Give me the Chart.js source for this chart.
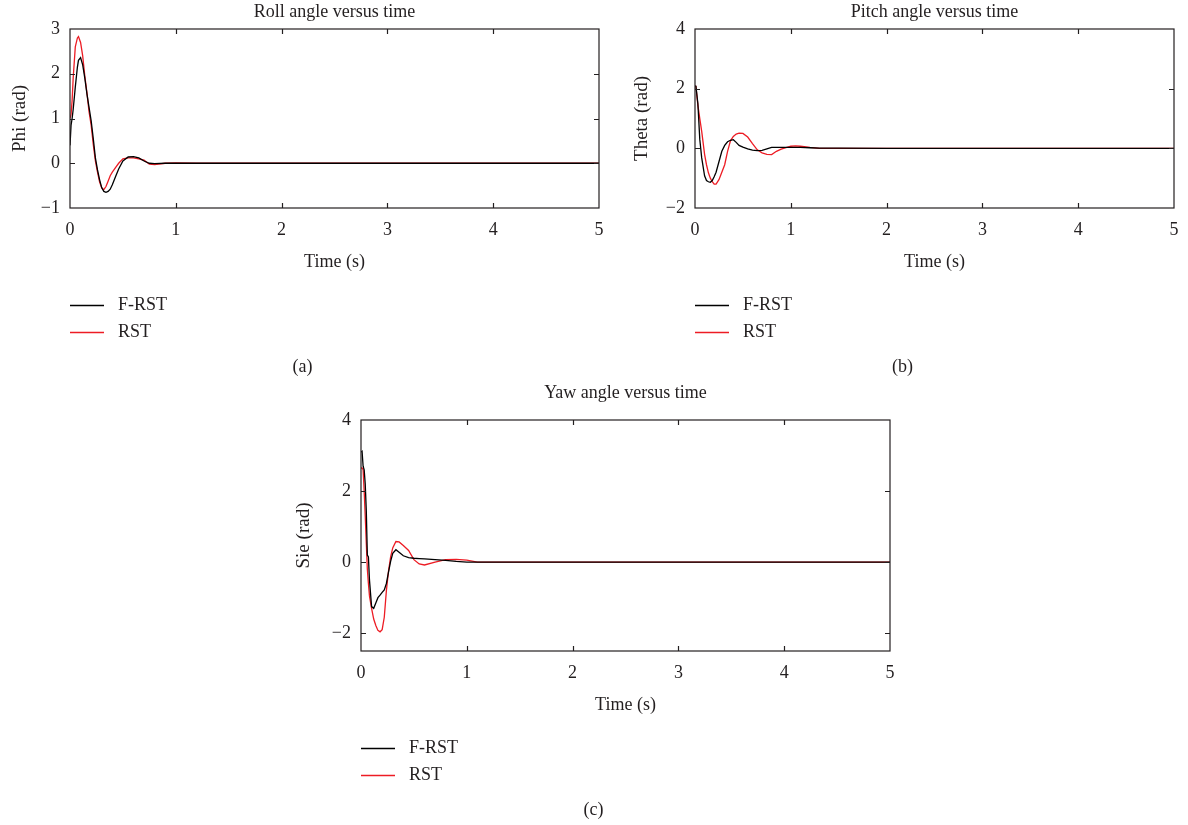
<!DOCTYPE html>
<html>
<head>
<meta charset="utf-8">
<title>Roll, pitch and yaw angles versus time</title>
<script src="https://cdn.jsdelivr.net/npm/chart.js@4.4.0/dist/chart.umd.min.js"></script>
<style>
  body { margin: 0; background: #fff; }
  #wrap { position: relative; width: 1188px; height: 825px; }
  canvas { position: absolute; }
</style>
</head>
<body>
<div id="wrap">
  <canvas id="roll-chart" style="left:0px;top:0px" width="620" height="390"></canvas>
  <canvas id="pitch-chart" style="left:600px;top:0px" width="588" height="390"></canvas>
  <canvas id="yaw-chart" style="left:250px;top:380px" width="700" height="445"></canvas>
</div>
<script>
// time ticks shared by all three plots
var timeTicks = [0, 1, 2, 3, 4, 5];

// (a) roll angle
var rollTime = [0, 0.01, 0.02, 0.03, 0.05, 0.07, 0.08, 0.1, 0.12, 0.14, 0.16, 0.18, 0.2, 0.22, 0.24, 0.26, 0.28, 0.3, 0.32, 0.34,
    0.36, 0.38, 0.4, 0.43, 0.46, 0.5, 0.55, 0.6, 0.65, 0.7, 0.75, 0.8, 0.9, 1.0, 1.2, 1.5, 2, 3, 4, 5];
var rollFRST = [0.4, 0.85, 1.0, 1.2, 1.7, 2.15, 2.3, 2.36, 2.2, 1.9, 1.55, 1.25, 0.95, 0.55, 0.12, -0.15, -0.37, -0.55, -0.63, -0.65,
    -0.63, -0.58, -0.48, -0.3, -0.13, 0.05, 0.14, 0.15, 0.12, 0.05, 0.0, -0.01, 0, 0, 0, 0, 0, 0, 0, 0];
var rollRST = [1.0, 1.1, 1.4, 1.9, 2.6, 2.8, 2.83, 2.7, 2.4, 1.95, 1.58, 1.15, 0.85, 0.42, 0.05, -0.2, -0.42, -0.55, -0.59, -0.52,
    -0.4, -0.28, -0.2, -0.1, 0.0, 0.1, 0.12, 0.12, 0.1, 0.07, -0.02, -0.03, 0.0, 0.01, 0, 0, 0, 0, 0, 0];
var rollYTicks = [-1, 0, 1, 2, 3];

// (b) pitch angle
var pitchTime = [0, 0.01, 0.03, 0.05, 0.07, 0.1, 0.12, 0.14, 0.16, 0.18, 0.2, 0.22, 0.25, 0.28, 0.31, 0.34, 0.37, 0.4, 0.43, 0.46,
    0.5, 0.55, 0.6, 0.65, 0.7, 0.75, 0.8, 0.85, 0.9, 0.95, 1.0, 1.05, 1.1, 1.2, 1.3, 1.5, 2, 3, 4, 5];
var pitchFRST = [2.1, 2.07, 1.5, 0.3, -0.32, -0.92, -1.08, -1.12, -1.14, -1.08, -0.95, -0.8, -0.45, -0.1, 0.1, 0.22, 0.27, 0.29, 0.2, 0.1,
    0.04, -0.02, -0.06, -0.08, -0.07, -0.02, 0.03, 0.03, 0.03, 0.03, 0.03, 0.03, 0.03, 0.02, 0.01, 0.01, 0, 0, 0, 0];
var pitchRST = [2.1, 2.05, 1.45, 1.0, 0.57, -0.2, -0.55, -0.82, -1.0, -1.12, -1.2, -1.2, -1.05, -0.8, -0.55, -0.1, 0.25, 0.4, 0.48, 0.51,
    0.5, 0.38, 0.16, -0.05, -0.15, -0.2, -0.21, -0.1, -0.03, 0.02, 0.07, 0.08, 0.07, 0.03, 0.0, 0, 0, 0, 0, 0];
var pitchYTicks = [-2, 0, 2, 4];

// (c) yaw angle
var yawTime = [0, 0.01, 0.02, 0.03, 0.04, 0.05, 0.06, 0.07, 0.08, 0.1, 0.12, 0.14, 0.16, 0.18, 0.2, 0.22, 0.24, 0.26, 0.28, 0.3,
    0.33, 0.36, 0.4, 0.45, 0.5, 0.55, 0.6, 0.7, 0.8, 0.9, 1.0, 1.1, 1.3, 1.5, 2, 3, 4, 5];
var yawFRST = [3.1, 3.12, 2.7, 2.6, 2.2, 1.45, 0.2, 0.15, -0.5, -1.25, -1.3, -1.15, -1.0, -0.93, -0.85, -0.78, -0.6, -0.28, 0.02, 0.25,
    0.35, 0.28, 0.18, 0.13, 0.11, 0.1, 0.09, 0.07, 0.05, 0.02, 0.0, 0, 0, 0, 0, 0, 0, 0];
var yawRST = [2.65, 2.65, 2.6, 2.0, 1.3, 0.54, -0.2, -0.6, -0.95, -1.3, -1.6, -1.78, -1.92, -1.96, -1.9, -1.55, -0.8, -0.25, 0.15, 0.4,
    0.58, 0.57, 0.47, 0.33, 0.07, -0.05, -0.08, 0.0, 0.07, 0.08, 0.06, 0.0, 0, 0, 0, 0, 0, 0];
var yawYTicks = [-2, 0, 2, 4];

var ink = '#231f20';
var fontFamily = "'Liberation Serif', 'Times New Roman', serif";
var fontSize = 18;

function pairs(t, v) {
    return t.map(function (x, i) { return { x: x, y: v[i] }; });
}

function minusLabel(value) {
    return value < 0 ? '\u2212' + Math.abs(value) : String(value);
}

// box, inward ticks, title, legend and panel caption
var framePlugin = {
    id: 'frame',
    afterDraw: function (chart, args, opts) {
        var ctx = chart.ctx, a = chart.chartArea;
        var x = chart.scales.x, y = chart.scales.y;
        ctx.save();
        ctx.strokeStyle = ink;
        ctx.lineWidth = 1.2;
        ctx.strokeRect(a.left, a.top, a.right - a.left, a.bottom - a.top);
        ctx.beginPath();
        x.ticks.forEach(function (t) {
            if (t.value <= x.min || t.value >= x.max) return;
            var px = Math.round(x.getPixelForValue(t.value)) + 0.5;
            ctx.moveTo(px, a.bottom); ctx.lineTo(px, a.bottom - 5);
            ctx.moveTo(px, a.top); ctx.lineTo(px, a.top + 5);
        });
        y.ticks.forEach(function (t) {
            if (t.value <= y.min || t.value >= y.max) return;
            var py = Math.round(y.getPixelForValue(t.value)) + 0.5;
            ctx.moveTo(a.left, py); ctx.lineTo(a.left + 5, py);
            ctx.moveTo(a.right, py); ctx.lineTo(a.right - 5, py);
        });
        ctx.stroke();

        ctx.fillStyle = ink;
        ctx.font = fontSize + 'px ' + fontFamily;
        ctx.textBaseline = 'middle';
        ctx.textAlign = 'center';
        ctx.fillText(opts.title, (a.left + a.right) / 2, a.top + opts.titleDy);
        ctx.fillText(opts.caption, (a.left + a.right) / 2 - 32, a.bottom + 159);

        ctx.textAlign = 'left';
        chart.data.datasets.forEach(function (ds, i) {
            var ly = Math.round(a.bottom + 97 + i * 26.5) + 0.5;
            ctx.strokeStyle = ds.borderColor;
            ctx.lineWidth = 1.3;
            ctx.beginPath();
            ctx.moveTo(a.left, ly); ctx.lineTo(a.left + 34, ly);
            ctx.stroke();
            ctx.fillText(ds.label, a.left + 48, ly);
        });
        ctx.restore();
    }
};

function angleChart(id, p) {
    var ctx = document.getElementById(id).getContext('2d');
    return new Chart(ctx, {
        type: 'line',
        data: {
            datasets: [{
                label: 'F-RST',
                data: pairs(p.time, p.frst),
                borderColor: '#000000',
                borderWidth: 1.3,
                pointRadius: 0,
                tension: 0
            }, {
                label: 'RST',
                data: pairs(p.time, p.rst),
                borderColor: '#ed1c24',
                borderWidth: 1.3,
                pointRadius: 0,
                tension: 0
            }]
        },
        options: {
            responsive: false,
            animation: false,
            devicePixelRatio: 1,
            layout: { padding: p.padding },
            plugins: {
                legend: { display: false },
                tooltip: { enabled: false },
                frame: { title: p.title, titleDy: p.titleDy, caption: p.caption }
            },
            scales: {
                x: {
                    type: 'linear',
                    min: 0,
                    max: 5,
                    afterBuildTicks: function (s) { s.ticks = timeTicks.map(function (v) { return { value: v }; }); },
                    afterFit: function (s) { s.height = 65; s.paddingLeft = 0; s.paddingRight = 0; },
                    grid: { display: false, drawTicks: false },
                    border: { display: false },
                    ticks: { color: ink, padding: 11, maxRotation: 0, font: { family: fontFamily, size: fontSize } },
                    title: { display: true, text: 'Time (s)', color: ink, padding: 0, font: { family: fontFamily, size: fontSize } }
                },
                y: {
                    min: p.yMin,
                    max: p.yMax,
                    afterBuildTicks: function (s) { s.ticks = p.yTicks.map(function (v) { return { value: v }; }); },
                    afterFit: function (s) { s.width = p.yWidth; s.paddingTop = 0; s.paddingBottom = 0; },
                    grid: { display: false, drawTicks: false },
                    border: { display: false },
                    ticks: { color: ink, padding: 10, callback: minusLabel, font: { family: fontFamily, size: fontSize } },
                    title: { display: true, text: p.yTitle, color: ink, padding: 0, font: { family: fontFamily, size: 19 } }
                }
            }
        },
        plugins: [framePlugin]
    });
}

angleChart('roll-chart', {
    time: rollTime, frst: rollFRST, rst: rollRST, yTicks: rollYTicks, yMin: -1, yMax: 3,
    title: 'Roll angle versus time', titleDy: -17, caption: '(a)', yTitle: 'Phi (rad)', yWidth: 61,
    padding: { left: 9, right: 21, top: 29, bottom: 117 }
});
angleChart('pitch-chart', {
    time: pitchTime, frst: pitchFRST, rst: pitchRST, yTicks: pitchYTicks, yMin: -2, yMax: 4,
    title: 'Pitch angle versus time', titleDy: -17, caption: '(b)', yTitle: 'Theta (rad)', yWidth: 64,
    padding: { left: 31, right: 14, top: 29, bottom: 117 }
});
angleChart('yaw-chart', {
    time: yawTime, frst: yawFRST, rst: yawRST, yTicks: yawYTicks, yMin: -2.5, yMax: 4,
    title: 'Yaw angle versus time', titleDy: -27, caption: '(c)', yTitle: 'Sie (rad)', yWidth: 68,
    padding: { left: 43, right: 60, top: 40, bottom: 109 }
});
</script>
</body>
</html>
